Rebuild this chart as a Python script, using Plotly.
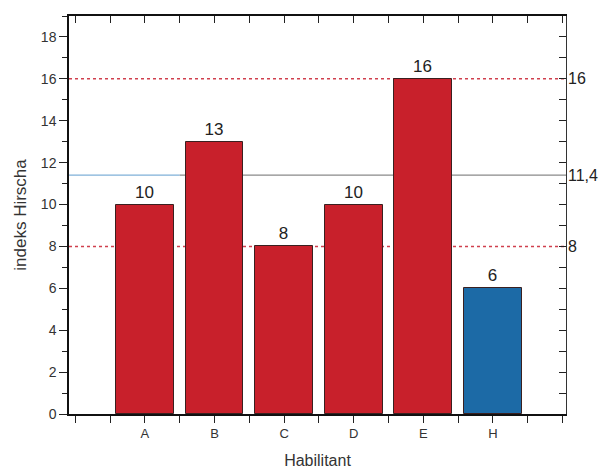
import plotly.graph_objects as go

categories = ["A", "B", "C", "D", "E", "H"]
h_index = [10, 13, 8, 10, 16, 6]
bar_colors = ["#c8202b", "#c8202b", "#c8202b", "#c8202b", "#c8202b", "#1c6aa6"]
ref_dotted = [16, 8]
ref_mean = 11.4
right_labels = ["16", "11,4", "8"]
right_vals = [16, 11.4, 8]

positions = list(range(1, len(categories) + 1))
XR = [-0.09, 7.05]
YR = [0, 19]

fig = go.Figure()
fig.add_trace(go.Bar(
    x=positions, y=h_index, width=0.83,
    marker=dict(color=bar_colors, line=dict(color="#3a2020", width=1)),
    text=[str(v) for v in h_index], textposition="outside",
    textfont=dict(size=17, color="#222", family="Liberation Sans, Arial"),
    cliponaxis=False, showlegend=False,
))

shapes = []
for v in ref_dotted:
    shapes.append(dict(type="line", xref="x", yref="y", x0=XR[0], x1=XR[1], y0=v, y1=v,
                       line=dict(color="#d0404e", width=1.5, dash="dot"), layer="below"))
shapes.append(dict(type="line", xref="x", yref="y", x0=XR[0], x1=1.5, y0=ref_mean, y1=ref_mean,
                   line=dict(color="#7fb0d8", width=1.3), layer="below"))
shapes.append(dict(type="line", xref="x", yref="y", x0=1.5, x1=XR[1], y0=ref_mean, y1=ref_mean,
                   line=dict(color="#8a8a8a", width=1.3), layer="below"))

annotations = []
for lab, v in zip(right_labels, right_vals):
    annotations.append(dict(x=1.0, xref="paper", y=v, yref="y", text=lab, showarrow=False,
                            xanchor="left", yanchor="middle", xshift=0,
                            font=dict(size=16, color="#222", family="Liberation Sans, Arial")))

fig.add_trace(go.Scatter(x=[XR[0]], y=[0], xaxis="x2", yaxis="y2", mode="markers",
                         marker=dict(opacity=0), showlegend=False, hoverinfo="skip"))

fig.update_layout(
    width=600, height=467,
    margin=dict(l=61, r=42, t=8, b=61, autoexpand=False),
    paper_bgcolor="white", plot_bgcolor="white",
    font=dict(family="Liberation Sans, Arial", color="#333"),
    shapes=shapes, annotations=annotations,
    bargap=0,
    xaxis=dict(
        range=XR, showgrid=False, zeroline=False, automargin=False,
        showline=True, linecolor="#111", linewidth=1.5,
        tickmode="array", tickvals=positions, ticktext=categories,
        ticks="outside", ticklen=7, tickcolor="#222", tickwidth=1,
        tickfont=dict(size=13, color="#333"),
        minor=dict(tickmode="linear", tick0=0, dtick=0.5, ticks="outside", ticklen=7,
                   tickcolor="#222", tickwidth=1),
        title=dict(text="Habilitant", font=dict(size=16, color="#333"), standoff=14),
    ),
    yaxis=dict(
        range=YR, showgrid=False, zeroline=False, automargin=False,
        showline=True, linecolor="#111", linewidth=1.5,
        tickmode="linear", tick0=0, dtick=2,
        ticks="outside", ticklen=8, tickcolor="#222", tickwidth=1,
        tickfont=dict(size=14, color="#333"),
        minor=dict(tickmode="linear", tick0=0, dtick=1, ticks="outside", ticklen=5,
                   tickcolor="#222", tickwidth=1),
        title=dict(text="indeks Hirscha", font=dict(size=17, color="#333"), standoff=10),
    ),
    xaxis2=dict(
        range=XR, overlaying="x", side="top", showgrid=False, zeroline=False,
        showline=True, linecolor="#111", linewidth=2, automargin=False,
        tickmode="linear", tick0=0, dtick=0.5, ticks="inside", ticklen=7,
        tickcolor="#222", showticklabels=False,
    ),
    yaxis2=dict(
        range=YR, overlaying="y", side="right", showgrid=False, zeroline=False,
        showline=True, linecolor="#333", linewidth=1.2, automargin=False,
        tickmode="linear", tick0=0, dtick=1, ticks="inside", ticklen=7,
        tickcolor="#222", showticklabels=False,
    ),
)

fig.write_html("out.html")
